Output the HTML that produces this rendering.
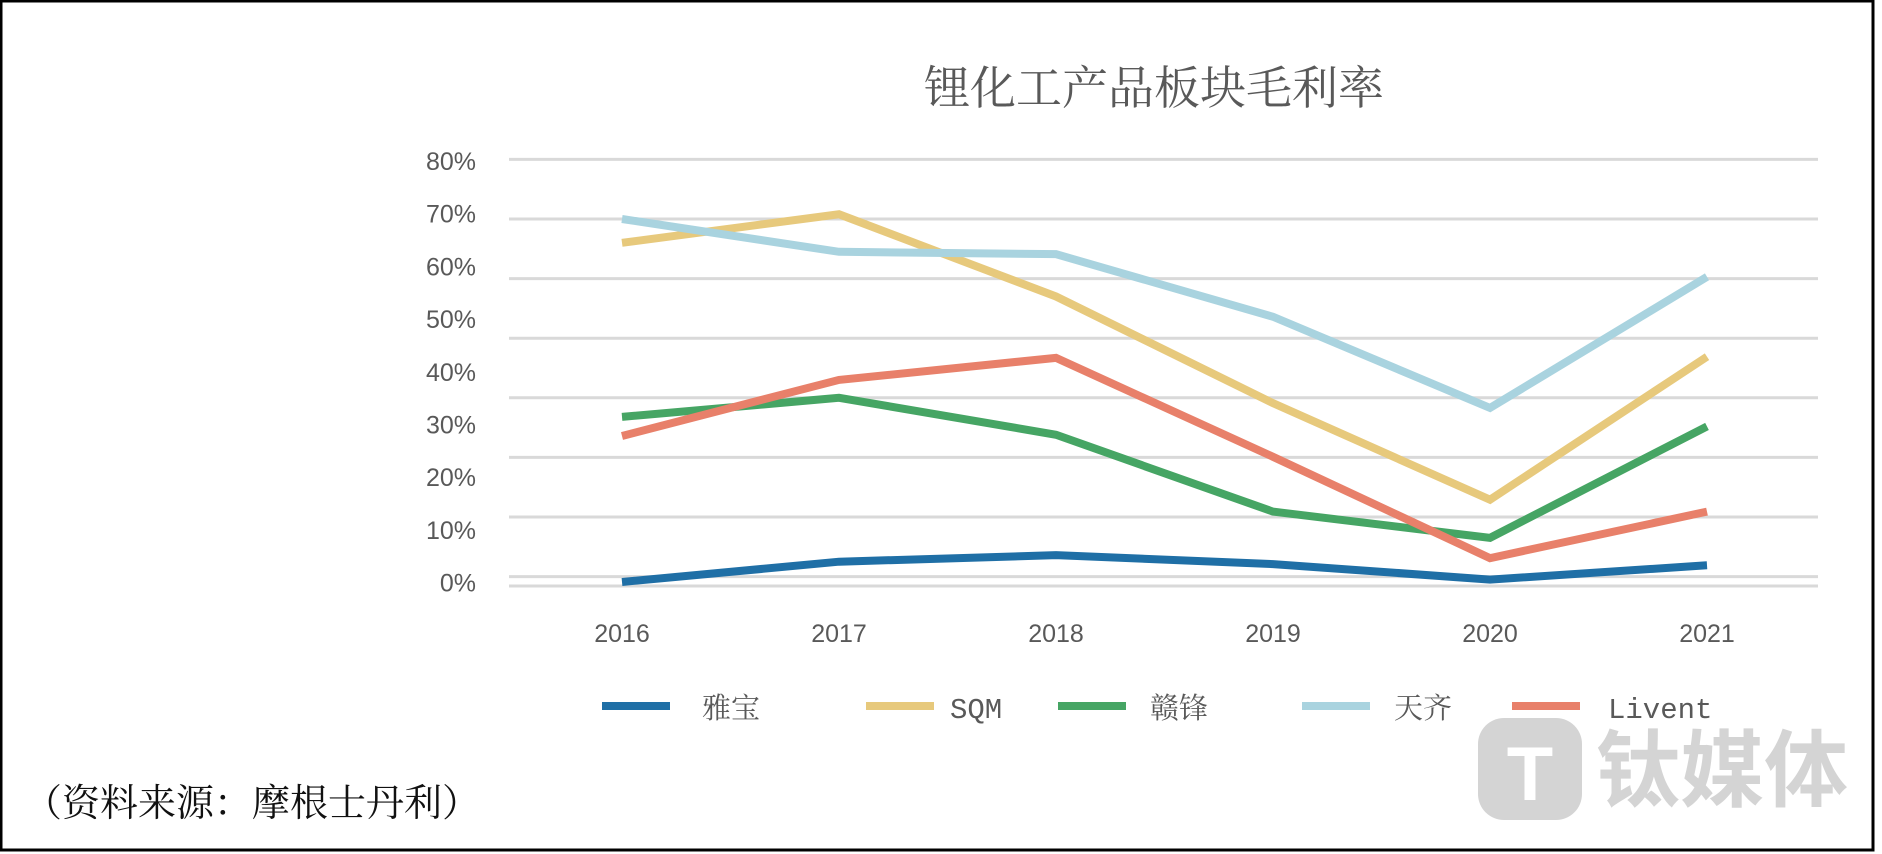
<!DOCTYPE html>
<html><head><meta charset="utf-8">
<style>
html,body{margin:0;padding:0;background:#fff;}
#wrap{position:relative;width:1882px;height:854px;overflow:hidden;background:#fff;}
svg{position:absolute;left:0;top:0;}
</style></head>
<body>
<div id="wrap">
<svg id="chart" width="1882" height="854"></svg>
</div>
<script>
const categories = ["2016","2017","2018","2019","2020","2021"];
const seriesNames = ["雅宝","SQM","赣锋","天齐","Livent"];
const yabao = [9.1,12.5,13.6,12.1,9.5,11.9];
const sqm = [66,70.8,57,39.1,22.9,46.9];
const ganfeng = [36.8,40,33.8,20.9,16.5,35.2];
const tianqi = [70,64.5,64.1,53.6,38.3,60.3];
const livent = [33.6,43,46.7,30.1,13.1,20.9];
const tickValues = [10,20,30,40,50,60,70,80];
const tickLabels = ["80%","70%","60%","50%","40%","30%","20%","10%","0%"];

const NS="http://www.w3.org/2000/svg";
const svg=document.getElementById('chart');
function el(t,a){const e=document.createElementNS(NS,t);for(const k in a)e.setAttribute(k,a[k]);svg.appendChild(e);return e;}
const xScale=i=>622+i*217;
const yScale=v=>517-(v-20)*5.96;
const colors=["#1f6fa6","#e7c97c","#46a564","#a9d3df","#e8806a"];
const data=[yabao,sqm,ganfeng,tianqi,livent];

// border
let b=el('rect',{x:1,y:1,width:1872,height:849,fill:'none',stroke:'#000','stroke-width':3});



// title
let t=el('text',{x:1154,y:104,'text-anchor':'middle','font-size':46,fill:'#595959','font-family':'"Liberation Serif","Noto Serif CJK SC",serif'});
t.textContent='锂化工产品板块毛利率';



// gridlines
tickValues.forEach(v=>{
  const g=el('line',{x1:509,x2:1818,y1:yScale(v),y2:yScale(v),stroke:'#d9d9d9','stroke-width':3});
  
  
});
let base=el('line',{x1:509,x2:1818,y1:586,y2:586,stroke:'#d9d9d9','stroke-width':3});



// y tick labels
tickLabels.forEach((s,i)=>{
  const l=el('text',{x:476,y:170+i*52.7,'text-anchor':'end','font-size':25,fill:'#595959','font-family':'"Liberation Sans",sans-serif'});
  l.textContent=s;
  
  
});

// x tick labels
categories.forEach((c,i)=>{
  const l=el('text',{x:xScale(i),y:642,'text-anchor':'middle','font-size':25,fill:'#595959','font-family':'"Liberation Sans",sans-serif'});
  l.textContent=c;
  
  
});

// series
data.forEach((arr,s)=>{
  const pts=arr.map((v,i)=>xScale(i)+','+yScale(v)).join(' ');
  const p=el('polyline',{points:pts,fill:'none',stroke:colors[s],'stroke-width':8,'stroke-linejoin':'miter'});
  
  
});

// legend
const legX=[602,866,1058,1302,1512];
const legT=[702,950,1150,1394,1608];
seriesNames.forEach((n,i)=>{
  const l=el('line',{x1:legX[i],x2:legX[i]+68,y1:706,y2:706,stroke:colors[i],'stroke-width':8});
  
  
  const tx=el('text',{x:legT[i],y:718,'font-size':29,fill:'#595959','font-family':'"Liberation Mono","Noto Serif CJK SC",monospace'});
  tx.textContent=n;
  
  
});

// watermark
let wm=el('rect',{x:1478,y:718,width:104,height:102,rx:26,fill:'#d4d4d4'});


let wt=el('text',{x:1530,y:800,'text-anchor':'middle','font-size':76,'font-weight':'bold',fill:'#fff','font-family':'"Liberation Sans",sans-serif'});
wt.textContent='T';


let wx=el('text',{x:1596,y:800,'font-size':84,'font-weight':'bold',fill:'#d4d4d4','font-family':'"Liberation Sans","Noto Sans CJK SC",sans-serif'});
wx.textContent='钛媒体';



// source
let src=el('text',{x:24,y:816,'font-size':38,fill:'#111','font-family':'"Liberation Serif","Noto Serif CJK SC",serif'});
src.textContent='（资料来源：摩根士丹利）';


</script>
</body></html>
